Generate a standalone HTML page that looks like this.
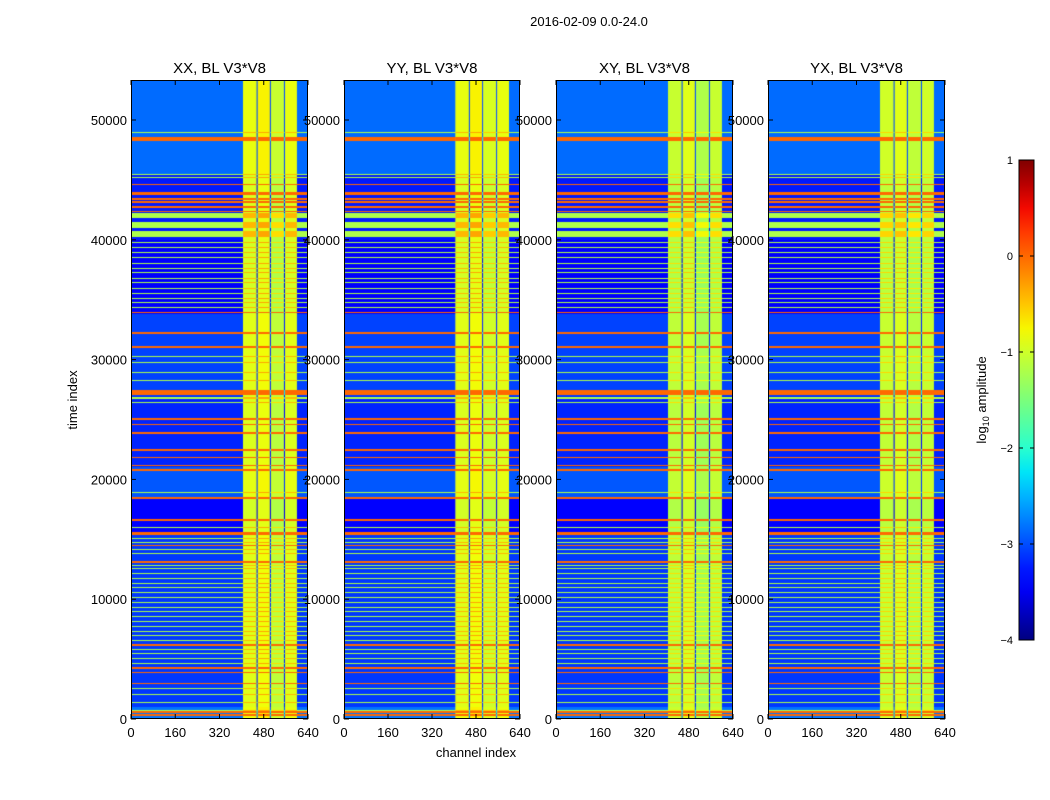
<!DOCTYPE html>
<html><head><meta charset="utf-8">
<style>
html,body{margin:0;padding:0;background:#fff;}
#wrap{position:relative;width:1050px;height:800px;overflow:hidden;font-family:"Liberation Sans",sans-serif;}
canvas{position:absolute;}
svg{position:absolute;left:0;top:0;}
</style></head>
<body>
<div id="wrap">
<canvas id="c0" width="177" height="639" style="left:131px;top:80px"></canvas>
<canvas id="c1" width="176" height="639" style="left:344px;top:80px"></canvas>
<canvas id="c2" width="177" height="639" style="left:556px;top:80px"></canvas>
<canvas id="c3" width="177" height="639" style="left:768px;top:80px"></canvas>
<svg id="ov" width="1050" height="800"></svg>
</div>
<script>
// ---- data ----
const panelTitles = ["XX, BL V3*V8","YY, BL V3*V8","XY, BL V3*V8","YX, BL V3*V8"];
const yTicks = [0,10000,20000,30000,40000,50000];
const xTicks = [0,160,320,480,640];
const cbTicks = [1,0,-1,-2,-3,-4];
// channel profile (start channel, end channel, level) per panel
const chanStart = [0,405,454,458,502,506,553,557,600];
const chanEnd   = [405,454,458,502,506,553,557,600,640];
const chanLevelP0 = [-2.8,-0.9,-3.1,-0.8,-3.1,-1.1,-3.1,-0.9,-2.8];
const chanLevelP1 = [-2.8,-0.9,-3.1,-0.8,-3.1,-1.0,-3.1,-0.9,-2.8];
const chanLevelP2 = [-2.8,-1.1,-3.1,-0.95,-3.1,-1.25,-3.1,-1.1,-2.8];
const chanLevelP3 = [-2.8,-1.05,-3.1,-0.95,-3.1,-1.15,-3.1,-1.05,-2.8];
const chanLevels = [chanLevelP0,chanLevelP1,chanLevelP2,chanLevelP3];
// background time regions
const bgStart = [0,1000,15500,18500,21000,27000,33800,40000,45400];
const bgEnd   = [1000,15500,18500,21000,27000,33800,40000,45400,53340];
const bgLevel = [-2.8,-3.1,-3.4,-2.95,-3.2,-3.05,-3.4,-3.25,-2.85];
// red (hot) lines: start, end
const redStart = [250,520,2880,3800,4200,6130,13050,14400,15360,16560,18400,20730,21080,21750,22400,23830,24500,25000,27050,31000,32150,33850,43100,43350,43750,44600,42300,42650,48250];
const redEnd   = [380,640,3000,3900,4360,6250,13150,14500,15620,16660,18500,20830,21200,21850,22500,23930,24600,25100,27460,31100,32300,33950,43200,43500,44000,44700,42400,42800,48600];
// green lines: start, end
const greenStart = [700,1300,2000,2500,3300,4600,5000,5400,5800,6500,6900,7300,7700,8100,8500,8900,9300,9700,10100,10500,10900,11300,11700,12100,12500,12800,13400,13800,14100,14700,15000,15940,18860,26400,26700,29700,30200,28900,28200,34300,34700,35100,35500,35900,36400,36700,37200,37600,38000,38500,38900,39300,39700,40200,41000,41800,45160,45400,48890];
const greenEnd   = [780,1380,2080,2580,3380,4680,5080,5480,5880,6580,6980,7380,7780,8180,8580,8980,9380,9780,10180,10580,10980,11380,11780,12180,12580,12880,13480,13880,14180,14780,15080,16020,18940,26480,26880,29780,30280,28980,28280,34380,34780,35180,35580,35980,36480,36780,37280,37680,38080,38580,38980,39380,39780,40700,41500,42200,45240,45480,48960];

const VMIN=-4, VMAX=1, TMAX=53340;
function jet(x){
  x=Math.max(0,Math.min(1,x));
  let r,g,b;
  r = x<0.35?0: x<0.66?(x-0.35)/0.31 : x<0.89?1 : 1-0.5*(x-0.89)/0.11;
  g = x<0.125?0: x<0.375?(x-0.125)/0.25 : x<0.64?1 : x<0.91?1-(x-0.64)/0.27 : 0;
  b = x<0.11?0.5+x/0.11*0.5 : x<0.34?1 : x<0.65?1-(x-0.34)/0.31 : 0;
  return `rgb(${Math.round(r*255)},${Math.round(g*255)},${Math.round(b*255)})`;
}
function rowLevel(t){
  for(let i=0;i<redStart.length;i++) if(t>=redStart[i]&&t<redEnd[i]) return 0;
  for(let i=0;i<greenStart.length;i++) if(t>=greenStart[i]&&t<greenEnd[i]) return -1.2;
  for(let i=0;i<bgStart.length;i++) if(t>=bgStart[i]&&t<bgEnd[i]) return bgLevel[i];
  return -3.1;
}
function cellValue(rl,cl){
  if(cl<-2.5) return cl>-2.95? rl : Math.min(rl,-2.1)-0.15;
  return Math.max(rl, cl+0.25*(rl+3.1));
}
function drawPanel(p){
  const cv=document.getElementById('c'+p), ctx=cv.getContext('2d');
  const W=cv.width,H=cv.height;
  const xs=c=>c/640*W;
  for(let py=0;py<H;py++){
    const t=(H-py-0.5)/H*TMAX;
    const rl=rowLevel(t);
    for(let j=0;j<chanStart.length;j++){
      const v=cellValue(rl,chanLevels[p][j]);
      ctx.fillStyle=jet((v-VMIN)/(VMAX-VMIN));
      const x0=xs(chanStart[j]), x1=xs(chanEnd[j]);
      ctx.fillRect(x0,py,x1-x0+0.5,1);
    }
  }
}
[0,1,2,3].forEach(drawPanel);

// ---- overlay axes ----
const NS="http://www.w3.org/2000/svg", ov=document.getElementById('ov');
function el(tag,attrs,parent){const e=document.createElementNS(NS,tag);for(const k in attrs)e.setAttribute(k,attrs[k]);(parent||ov).appendChild(e);return e;}
function txt(s,attrs,parent){const e=el('text',attrs,parent);e.textContent=s;return e;}
const panelX=[131,344,556,768], panelW=[177,176,177,177], plotTop=80, plotBottom=719;
const yScale=t=>plotBottom-t/TMAX*(plotBottom-plotTop);
let ttl=txt("2016-02-09 0.0-24.0",{x:589,y:26,'text-anchor':'middle','font-size':13});

panelX.forEach((x0,p)=>{
  const w=panelW[p], xScale=c=>x0+c/640*w;
  const g=el('g',{});
  
  
  el('rect',{x:x0+0.5,y:plotTop+0.5,width:w-1,height:plotBottom-plotTop-1,fill:'none',stroke:'#000','stroke-width':1},g);
  const st=txt(panelTitles[p],{x:x0+w/2,y:73,'text-anchor':'middle','font-size':15},g);
  
  yTicks.forEach(t=>{
    const y=yScale(t);
    el('line',{x1:x0,x2:x0+5,y1:y,y2:y,stroke:'#000'},g);
    el('line',{x1:x0+w-5,x2:x0+w,y1:y,y2:y,stroke:'#000'},g);
    const l=txt(String(t),{x:x0-4,y:y+5,'text-anchor':'end','font-size':13},g);
    
  });
  xTicks.forEach(c=>{
    const x=xScale(c);
    el('line',{x1:x,x2:x,y1:plotBottom,y2:plotBottom-5,stroke:'#000'},g);
    el('line',{x1:x,x2:x,y1:plotTop,y2:plotTop+5,stroke:'#000'},g);
    const l=txt(String(c),{x:x,y:737,'text-anchor':'middle','font-size':13},g);
    
  });
});
let yl=txt("time index",{x:0,y:0,'text-anchor':'middle','font-size':13,transform:'translate(77,400) rotate(-90)'});

let xl=txt("channel index",{x:476,y:757,'text-anchor':'middle','font-size':13});

// colorbar
const defs=el('defs',{});
const grad=el('linearGradient',{id:'jetg',x1:0,y1:1,x2:0,y2:0},defs);
for(let i=0;i<=20;i++){el('stop',{offset:(i/20),'stop-color':jet(i/20)},grad);}
const cb=el('rect',{x:1019,y:160,width:15,height:480,fill:'url(#jetg)',stroke:'#000','stroke-width':1});

const cbY=v=>640-(v-VMIN)/(VMAX-VMIN)*480;
cbTicks.forEach(v=>{
  const y=cbY(v);
  el('line',{x1:1019,x2:1023,y1:y,y2:y,stroke:'#000'});
  el('line',{x1:1030,x2:1034,y1:y,y2:y,stroke:'#000'});
  const l=txt(v<0?'\u2212'+(-v):String(v),{x:1013,y:y+4,'text-anchor':'end','font-size':11});
  
});
const cl=el('text',{x:0,y:0,'text-anchor':'middle','font-size':13,transform:'translate(986,400) rotate(-90)'});

cl.innerHTML='log<tspan font-size="9" dy="3">10</tspan><tspan dy="-3"> amplitude</tspan>';
</script>
</body></html>
